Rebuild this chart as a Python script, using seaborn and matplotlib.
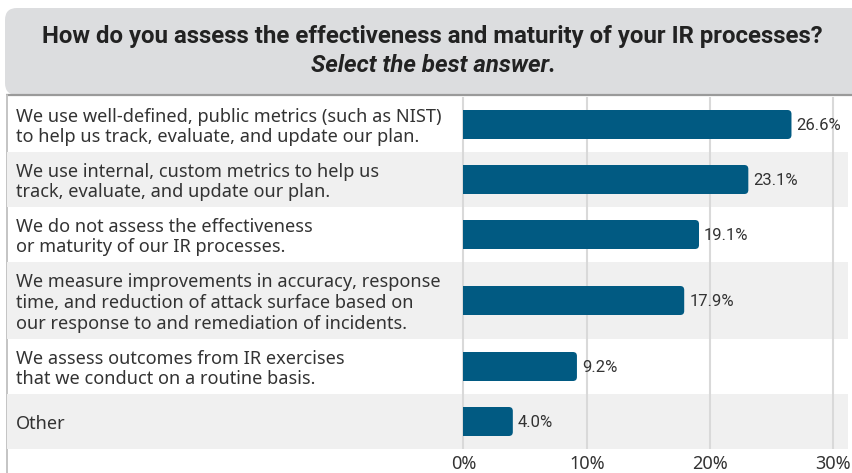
import matplotlib
matplotlib.use("Agg")
import matplotlib.pyplot as plt
from matplotlib.patches import FancyBboxPatch, Rectangle
import matplotlib.transforms as mtransforms
import seaborn as sns
import pandas as pd

# ---- data -------------------------------------------------------------
answers = [
    "We use well-defined, public metrics (such as NIST)\nto help us track, evaluate, and update our plan.",
    "We use internal, custom metrics to help us\ntrack, evaluate, and update our plan.",
    "We do not assess the effectiveness\nor maturity of our IR processes.",
    "We measure improvements in accuracy, response\ntime, and reduction of attack surface based on\nour response to and remediation of incidents.",
    "We assess outcomes from IR exercises\nthat we conduct on a routine basis.",
    "Other",
]
shares = [26.6, 23.1, 19.1, 17.9, 9.2, 4.0]
tick_values = [0, 10, 20, 30]
tick_labels = ["0%", "10%", "20%", "30%"]
title_line = "How do you assess the effectiveness and maturity of your IR processes?"
subtitle_line = "Select the best answer."

# ---- layout (pixel-based vertical units, 1 unit = 1 px) ---------------
W, H = 852, 473
row_top = 97
row_heights = [55 + 22 * max(0, a.count("\n") - 1) for a in answers]
edges = [row_top]
for h in row_heights:
    edges.append(edges[-1] + h)
centers = [(a + b) / 2 for a, b in zip(edges[:-1], edges[1:])]
table_bottom = edges[-1]

zero_px, px_per_unit = 463.5, 12.33
ax_left_px, ax_right_px = 7, 848

BAR_COLOR = "#015a82"
TEXT_COLOR = "#333333"
BAND_COLOR = "#f0f0f0"
GRID_COLOR = "#d9d9d9"

sns.set_theme(style="white")
plt.rcParams["font.family"] = ["Noto Sans", "DejaVu Sans"]

fig = plt.figure(figsize=(W / 100, H / 100), dpi=100)
fig.patch.set_facecolor("white")

# header panel
hdr = fig.add_axes([0, 0, 1, 1], zorder=0)
hdr.set_xlim(0, W)
hdr.set_ylim(H, 0)
hdr.axis("off")
hdr.add_patch(FancyBboxPatch((5, 8), W + 40, 87, boxstyle="round,pad=0,rounding_size=12",
                             facecolor="#dcdddf", edgecolor="none"))
hdr.plot([6, W], [95.5, 95.5], color="#9a9a9a", lw=1.6, solid_capstyle="butt")
hdr.plot([6.5, 6.5], [95, H], color="#c4c4c4", lw=1.4)
hdr.text(432, 36, title_line, ha="center", va="center", fontsize=17.3, fontweight="bold",
         color="#222222", family=["Roboto", "DejaVu Sans"])
hdr.text(433, 66, subtitle_line, ha="center", va="center", fontsize=17.3, fontweight="bold",
         fontstyle="italic", color="#222222", family=["Roboto", "DejaVu Sans"])

# main table axes
ax = fig.add_axes([ax_left_px / W, 1 - table_bottom / H,
                   (ax_right_px - ax_left_px) / W, (table_bottom - row_top) / H], zorder=1)
ax.set_facecolor("none")
xmin = (ax_left_px - zero_px) / px_per_unit
xmax = (ax_right_px - zero_px) / px_per_unit

for i, (a, b) in enumerate(zip(edges[:-1], edges[1:])):
    if i % 2 == 1:
        ax.axhspan(a, b, color=BAND_COLOR, lw=0, zorder=0)

n_before = len(ax.patches)
df = pd.DataFrame({"share": shares, "pos": centers})
spacing = min(b - a for a, b in zip(centers[:-1], centers[1:]))
sns.barplot(data=df, x="share", y="pos", orient="y", native_scale=True,
            width=29 / spacing, color=BAR_COLOR, saturation=1, ax=ax, zorder=3)
bars = list(ax.patches)[n_before:]

# round the outer end of each bar
clip = Rectangle((0, row_top), 100, table_bottom, transform=ax.transData)
r_x = 4 / px_per_unit
for p in bars:
    x0, y0, w, h = p.get_x(), p.get_y(), p.get_width(), p.get_height()
    p.set_visible(False)
    rb = FancyBboxPatch((x0 - 2 * r_x, y0), w + 2 * r_x, h,
                        boxstyle=f"round,pad=0,rounding_size={r_x}",
                        mutation_aspect=4 / r_x,
                        facecolor=BAR_COLOR, edgecolor="none", zorder=3)
    ax.add_patch(rb)
    rb.set_clip_path(clip)

for v, c in zip(shares, centers):
    ax.text(v + 5 / px_per_unit, c + 1, f"{v:.1f}%", ha="left", va="center", fontsize=12,
            color=TEXT_COLOR, family=["Roboto", "DejaVu Sans"])

lab_tr = mtransforms.blended_transform_factory(ax.transAxes, ax.transData)
for a, c in zip(answers, centers):
    ax.text((16 - ax_left_px) / (ax_right_px - ax_left_px), c + 2.5, a, transform=lab_tr,
            ha="left", va="center", fontsize=13.1, color=TEXT_COLOR, linespacing=1.18)

ax.set_xlim(xmin, xmax)
ax.set_ylim(table_bottom, row_top)
ax.set_xticks(tick_values)
ax.set_xticklabels(tick_labels, fontsize=13, color=TEXT_COLOR)
ax.set_yticks([])
ax.set_xlabel("")
ax.set_ylabel("")
ax.tick_params(axis="x", length=0, pad=4)
for xv in tick_values:
    ax.axvline(xv, color=GRID_COLOR, lw=1.5, zorder=1)
for s in ax.spines.values():
    s.set_visible(False)

fig.savefig("out.png", dpi=100)
